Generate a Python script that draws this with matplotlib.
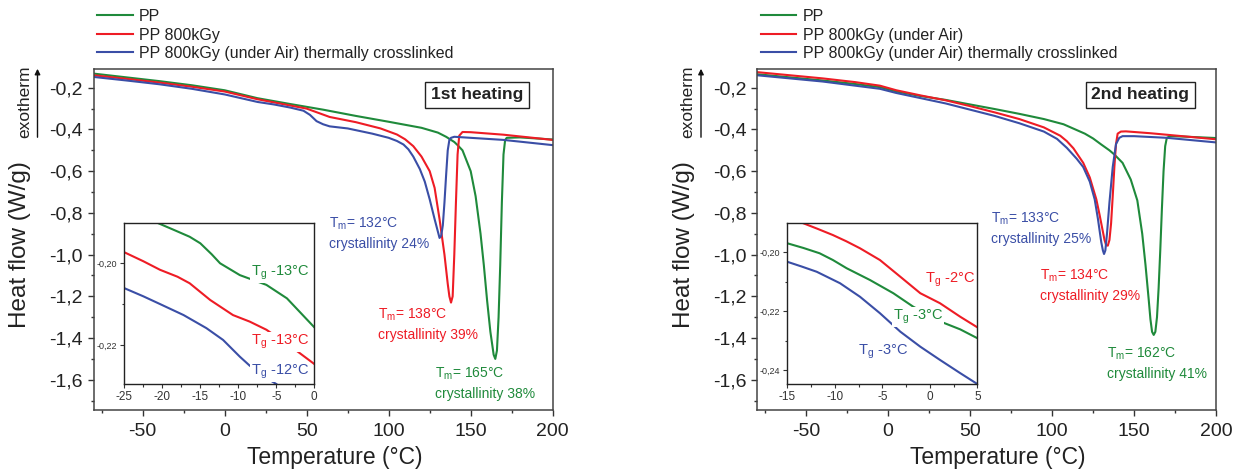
import matplotlib
matplotlib.use('Agg')
import matplotlib.pyplot as plt
from matplotlib.ticker import MultipleLocator, FuncFormatter

plt.rcParams['font.family'] = ['Liberation Sans', 'DejaVu Sans']
plt.rcParams['mathtext.fontset'] = 'custom'
plt.rcParams['mathtext.rm'] = 'Liberation Sans'
plt.rcParams['mathtext.it'] = 'Liberation Sans:italic'
plt.rcParams['axes.unicode_minus'] = False

GREEN = '#1f8a3b'
RED = '#ee1c25'
BLUE = '#3a4ea6'

# ---------------- 1st heating ----------------
h1_pp_T = [-80, -60, -40, -20, 0, 20, 40, 60, 80, 100, 120, 130, 135, 140, 142, 145, 147, 150, 153,
           156, 158, 160, 162, 164, 165, 166, 167, 168, 169, 170, 171, 172, 180, 190, 200]
h1_pp_V = [-0.132, -0.150, -0.168, -0.188, -0.212, -0.250, -0.278, -0.305, -0.335, -0.363, -0.392,
           -0.415, -0.435, -0.46, -0.475, -0.50, -0.54, -0.60, -0.72, -0.90, -1.05, -1.22, -1.37,
           -1.48, -1.50, -1.46, -1.30, -1.05, -0.75, -0.52, -0.45, -0.44, -0.438, -0.443, -0.448]

h1_irr_T = [-80, -60, -40, -20, 0, 20, 30, 40, 50, 64, 80, 95, 105, 110, 115, 120, 125, 128, 131,
            134, 136, 137, 138, 139, 140, 141, 142, 143, 145, 150, 170, 200]
h1_irr_V = [-0.14, -0.157, -0.175, -0.195, -0.218, -0.255, -0.27, -0.285, -0.30, -0.34, -0.365,
            -0.395, -0.424, -0.447, -0.48, -0.53, -0.60, -0.68, -0.83, -1.0, -1.14, -1.20, -1.23,
            -1.20, -1.0, -0.75, -0.52, -0.43, -0.412, -0.413, -0.425, -0.45]

h1_xl_T = [-80, -60, -40, -20, 0, 20, 30, 40, 48, 52, 56, 60, 64, 75, 90, 100, 105, 109, 112, 115,
           119, 122, 125, 128, 130, 131, 132, 133, 134, 135, 136, 137, 138, 140, 150, 170, 200]
h1_xl_V = [-0.148, -0.165, -0.183, -0.205, -0.232, -0.268, -0.28, -0.295, -0.31, -0.33, -0.36,
           -0.375, -0.385, -0.395, -0.42, -0.44, -0.455, -0.472, -0.495, -0.53, -0.59, -0.65,
           -0.735, -0.83, -0.89, -0.92, -0.91, -0.86, -0.75, -0.62, -0.50, -0.45, -0.44, -0.435,
           -0.44, -0.45, -0.475]

# 1st heating inset (zoom on Tg)
i1_pp_T = [-20.5, -18.5, -16.4, -15.0, -13.5, -12.4, -9.8, -6.3, -3.6, 0]
i1_pp_V = [-0.1902, -0.1918, -0.1935, -0.1951, -0.1978, -0.2000, -0.2029, -0.2053, -0.2086, -0.2157]
i1_irr_T = [-25, -22.5, -20.3, -18.0, -16.4, -13.7, -10.7, -8.5, -6.3, -2.8, 0]
i1_irr_V = [-0.1973, -0.1995, -0.2016, -0.2033, -0.2049, -0.2090, -0.2127, -0.2143, -0.2163,
            -0.2208, -0.2247]
i1_xl_T = [-25, -22.5, -20.3, -17.2, -14.2, -12.0, -9.8, -8.5, -5.8, -5.0]
i1_xl_V = [-0.2061, -0.2081, -0.2100, -0.2127, -0.2159, -0.2188, -0.2229, -0.2251, -0.2287, -0.2296]

# ---------------- 2nd heating ----------------
h2_pp_T = [-80, -60, -40, -20, -5, 5, 20, 35, 50, 65, 80, 95, 107, 120, 125, 130, 135, 138, 143,
           148, 152, 155, 157, 159, 160, 161, 162, 163, 164, 165, 166, 167, 168, 169, 170, 172,
           180, 200]
h2_pp_V = [-0.135, -0.150, -0.165, -0.182, -0.197, -0.218, -0.240, -0.258, -0.280, -0.302,
           -0.325, -0.350, -0.375, -0.42, -0.443, -0.472, -0.50, -0.52, -0.56, -0.64, -0.74,
           -0.90, -1.05, -1.22, -1.31, -1.37, -1.385, -1.37, -1.30, -1.16, -0.98, -0.78, -0.60,
           -0.48, -0.44, -0.432, -0.434, -0.441]

h2_irr_T = [-80, -60, -40, -20, -5, 5, 20, 35, 50, 65, 80, 95, 105, 109, 113, 119, 123, 127, 129,
            131, 132, 133, 134, 135, 136, 137, 138, 139, 140, 142, 145, 160, 200]
h2_irr_V = [-0.125, -0.140, -0.155, -0.173, -0.190, -0.212, -0.237, -0.260, -0.288, -0.318,
            -0.350, -0.390, -0.430, -0.456, -0.49, -0.56, -0.63, -0.735, -0.81, -0.89, -0.93,
            -0.955, -0.957, -0.93, -0.85, -0.72, -0.58, -0.47, -0.42, -0.41, -0.409, -0.418, -0.447]

h2_xl_T = [-80, -60, -40, -20, -5, 5, 20, 35, 50, 65, 80, 95, 103, 109, 115, 119, 123, 126, 128,
           130, 131, 131.7, 132.5, 133.5, 135, 137, 139, 141, 143, 150, 170, 200]
h2_xl_V = [-0.140, -0.155, -0.170, -0.190, -0.205, -0.225, -0.250, -0.275, -0.305, -0.335, -0.370,
           -0.410, -0.445, -0.488, -0.54, -0.58, -0.65, -0.735, -0.83, -0.94, -0.98, -0.997, -0.98,
           -0.90, -0.75, -0.58, -0.47, -0.44, -0.432, -0.432, -0.44, -0.462]

# 2nd heating inset
i2_pp_T = [-15, -13.3, -11.6, -10.2, -8.75, -6.3, -3.84, -1.74, 1.4, 3.2, 5]
i2_pp_V = [-0.1969, -0.1985, -0.2003, -0.2026, -0.2054, -0.2094, -0.2139, -0.2185, -0.2239,
           -0.2262, -0.2292]
i2_irr_T = [-13.3, -11.8, -10.2, -8.8, -7.35, -5.25, -3.1, -1.0, 1.07, 3.2, 5]
i2_irr_V = [-0.1901, -0.1920, -0.1941, -0.1962, -0.1986, -0.2026, -0.2083, -0.2139, -0.2173,
            -0.2219, -0.2255]
i2_xl_T = [-15, -13.5, -11.9, -9.45, -7.35, -5.25, -3.1, -1.0, 1.07, 3.2, 5]
i2_xl_V = [-0.2032, -0.2048, -0.2066, -0.2105, -0.2151, -0.2207, -0.2270, -0.2321, -0.2366,
           -0.2411, -0.2448]

legend_1 = ['PP', 'PP 800kGy', 'PP 800kGy (under Air) thermally crosslinked']
legend_2 = ['PP', 'PP 800kGy (under Air)', 'PP 800kGy (under Air) thermally crosslinked']

W, H = 1233, 471
fig = plt.figure(figsize=(W / 100, H / 100), dpi=100)
fig.patch.set_facecolor('white')


def fx(px):
    return px / W


def fy(py):
    return 1 - py / H


def comma(fmt):
    return FuncFormatter(lambda v, p: (fmt % v).replace('.', ','))


def style_main(ax):
    ax.set_xlim(-80, 200)
    ax.set_ylim(-1.745, -0.11)
    ax.xaxis.set_major_locator(MultipleLocator(50))
    ax.xaxis.set_minor_locator(MultipleLocator(25))
    ax.yaxis.set_major_locator(MultipleLocator(0.2))
    ax.yaxis.set_minor_locator(MultipleLocator(0.1))
    ax.yaxis.set_major_formatter(comma('%.1f'))
    ax.tick_params(which='major', direction='out', length=4.5, width=1, labelsize=14,
                   colors='#333333', labelcolor='#222222', pad=3)
    ax.tick_params(which='minor', direction='out', length=2.5, width=1, colors='#333333')
    ax.tick_params(axis='x', pad=5)
    for s in ax.spines.values():
        s.set_color('#444444')
        s.set_linewidth(1.1)
    ax.set_xlabel('Temperature (°C)', fontsize=16.5, color='#222222')
    ax.set_ylabel('Heat flow (W/g)', fontsize=17.5, color='#222222')
    ax.xaxis.set_label_coords(0.525, -0.105)
    ax.yaxis.set_label_coords(-0.136, 0.485)


def style_inset(ax, xlim, ylim, xstep, ystep):
    ax.set_xlim(*xlim)
    ax.set_ylim(*ylim)
    ax.xaxis.set_major_locator(MultipleLocator(xstep))
    ax.xaxis.set_minor_locator(MultipleLocator(xstep / 2))
    ax.yaxis.set_major_locator(MultipleLocator(ystep))
    ax.yaxis.set_minor_locator(MultipleLocator(ystep / 2))
    ax.yaxis.set_major_formatter(comma('%.2f'))
    ax.tick_params(which='major', direction='out', length=3, width=0.8, pad=2, colors='#333333')
    ax.tick_params(which='minor', direction='out', length=1.8, width=0.8, colors='#333333')
    ax.tick_params(axis='x', labelsize=8.5)
    ax.tick_params(axis='y', labelsize=6.5)
    for s in ax.spines.values():
        s.set_color('#222222')
        s.set_linewidth(1.0)


panels = [
    dict(x0=93.5, x1=552.7, ins_x0=124.3, data=[(h1_pp_T, h1_pp_V), (h1_irr_T, h1_irr_V), (h1_xl_T, h1_xl_V)],
         inset=[(i1_pp_T, i1_pp_V), (i1_irr_T, i1_irr_V), (i1_xl_T, i1_xl_V)],
         ins_xlim=(-25, 0), ins_ylim=(-0.2296, -0.1902), ins_xstep=5, ins_ystep=0.02,
         legend=legend_1, box='1st heating',
         tm=[('T$_{\\mathrm{m}}$= 132°C', 'crystallinity 24%', BLUE, 329, 224),
             ('T$_{\\mathrm{m}}$= 138°C', 'crystallinity 39%', RED, 378, 315),
             ('T$_{\\mathrm{m}}$= 165°C', 'crystallinity 38%', GREEN, 435, 374)],
         tg=[('T$_{\\mathrm{g}}$ -13°C', GREEN, 251, 273),
             ('T$_{\\mathrm{g}}$ -13°C', RED, 251, 342),
             ('T$_{\\mathrm{g}}$ -12°C', BLUE, 251, 372)]),
    dict(x0=757.0, x1=1216.0, ins_x0=787.3, data=[(h2_pp_T, h2_pp_V), (h2_irr_T, h2_irr_V), (h2_xl_T, h2_xl_V)],
         inset=[(i2_pp_T, i2_pp_V), (i2_irr_T, i2_irr_V), (i2_xl_T, i2_xl_V)],
         ins_xlim=(-15, 5), ins_ylim=(-0.2448, -0.1901), ins_xstep=5, ins_ystep=0.02,
         legend=legend_2, box='2nd heating',
         tm=[('T$_{\\mathrm{m}}$= 133°C', 'crystallinity 25%', BLUE, 991, 219),
             ('T$_{\\mathrm{m}}$= 134°C', 'crystallinity 29%', RED, 1040, 276),
             ('T$_{\\mathrm{m}}$= 162°C', 'crystallinity 41%', GREEN, 1107, 354)],
         tg=[('T$_{\\mathrm{g}}$ -2°C', RED, 925, 280),
             ('T$_{\\mathrm{g}}$ -3°C', GREEN, 893, 317),
             ('T$_{\\mathrm{g}}$ -3°C', BLUE, 858, 352)]),
]

colors = [GREEN, RED, BLUE]
top_px, bot_px = 69, 410

for p in panels:
    ax = fig.add_axes([fx(p['x0']), fy(bot_px), (p['x1'] - p['x0']) / W, (bot_px - top_px) / H])
    lines = []
    for (T, V), c, lab in zip(p['data'], colors, p['legend']):
        ln, = ax.plot(T, V, color=c, lw=1.5, label=lab)
        lines.append(ln)
    style_main(ax)

    leg = ax.legend(handles=lines, loc='upper left', bbox_to_anchor=(fx(p['x0'] + 3.5), fy(9)),
                    bbox_transform=fig.transFigure, frameon=False, fontsize=11.5,
                    handlelength=2.25, handletextpad=0.38, labelspacing=0.22, borderpad=0,
                    borderaxespad=0)
    for t in leg.get_texts():
        t.set_color('#222222')

    ax.text(0.835, 0.925, p['box'], transform=ax.transAxes, ha='center', va='center',
            fontsize=12.5, fontweight='bold', color='#222222',
            bbox=dict(facecolor='white', edgecolor='#222222', linewidth=1.0, pad=4))

    for l1, l2, c, px, py in p['tm']:
        fig.text(fx(px), fy(py), l1, color=c, fontsize=10, va='center', ha='left')
        fig.text(fx(px), fy(py + 20), l2, color=c, fontsize=10, va='center', ha='left')

    # exotherm arrow + label
    arr_x = p['x0'] - 56
    fig.add_artist(matplotlib.patches.FancyArrowPatch(
        (fx(arr_x), fy(140)), (fx(arr_x), fy(66)), transform=fig.transFigure,
        arrowstyle='-|>', mutation_scale=8, color='#111111', lw=1.0))
    fig.text(fx(arr_x - 13), fy(102), 'exotherm', rotation=90, ha='center', va='center',
             fontsize=12.5, color='#222222')

    axi = fig.add_axes([fx(p['ins_x0']), fy(384), 190 / W, (384 - 223.3) / H])
    for (T, V), c in zip(p['inset'], colors):
        axi.plot(T, V, color=c, lw=1.5)
    style_inset(axi, p['ins_xlim'], p['ins_ylim'], p['ins_xstep'], p['ins_ystep'])
    for lab, c, px, py in p['tg']:
        fig.text(fx(px), fy(py), lab, color=c, fontsize=10.5, va='center', ha='left', zorder=10,
                 bbox=dict(facecolor='white', edgecolor='none', pad=0.5))

fig.savefig('out.png', dpi=100, facecolor='white')
